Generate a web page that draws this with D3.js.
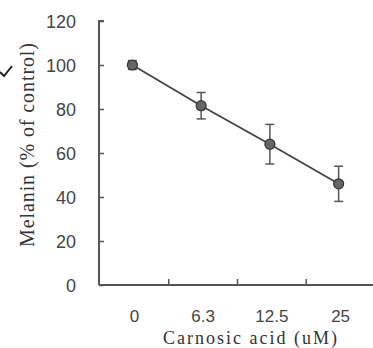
<!DOCTYPE html>
<html><head><meta charset="utf-8">
<script src="https://cdn.jsdelivr.net/npm/d3@7"></script>
<style>body{margin:0;background:#fff}svg{display:block}</style>
</head><body>
<script>
const categories = ["0", "6.3", "12.5", "25"];
const melanin = [100, 81.5, 64, 46];
const errors = [2, 6, 9, 8];
const yTicks = [0, 20, 40, 60, 80, 100, 120];

const W = 373, H = 348;
const svg = d3.select("body").append("svg").attr("width", W).attr("height", H);

const x = d3.scaleBand().domain(categories).range([100, 375]);
const y = d3.scaleLinear().domain([0, 120]).range([285, 21]);
const axisColor = "#555";

// y axis
const ya = svg.append("g").attr("transform", "translate(99,0)")
  .call(d3.axisRight(y).tickValues(yTicks).tickSize(5).tickFormat(""));
ya.select(".domain").attr("stroke", axisColor).attr("stroke-width", 2).attr("d", "M5,21H0V285");
ya.selectAll(".tick line").attr("stroke", axisColor).attr("stroke-width", 1.5);
svg.append("g").selectAll("text").data(yTicks).join("text")
  .attr("x", 76).attr("y", d => y(d) + 7)
  .attr("text-anchor", "end")
  .attr("font-family", "Liberation Sans, Arial, sans-serif")
  .attr("font-size", 18).attr("fill", "#444")
  .text(d => d);

// x axis
const bounds = categories.slice(1).map(c => x(c));
const xa = svg.append("g").attr("transform", "translate(0,285)");
xa.append("line").attr("x1", 99).attr("x2", W).attr("y1", 0).attr("y2", 0)
  .attr("stroke", axisColor).attr("stroke-width", 2);
xa.selectAll(".tk").data(bounds).join("line").attr("class", "tk")
  .attr("x1", d => d).attr("x2", d => d).attr("y1", 0).attr("y2", -6)
  .attr("stroke", axisColor).attr("stroke-width", 1.5);
svg.append("g").selectAll("text").data(categories).join("text")
  .attr("x", d => x(d) + x.bandwidth() / 2).attr("y", 322)
  .attr("text-anchor", "middle")
  .attr("font-family", "Liberation Sans, Arial, sans-serif")
  .attr("font-size", 17).attr("fill", "#444")
  .text(d => d);

// axis titles
svg.append("text").attr("x", 163).attr("y", 344)
  .attr("font-family", "Liberation Serif, Times New Roman, serif")
  .attr("font-size", 18).attr("fill", "#333")
  .attr("textLength", 174).attr("lengthAdjust", "spacing")
  .text("Carnosic acid (uM)");
svg.append("text").attr("transform", "translate(34,247) rotate(-90)")
  .attr("font-family", "Liberation Serif, Times New Roman, serif")
  .attr("font-size", 20).attr("fill", "#333")
  .attr("textLength", 204).attr("lengthAdjust", "spacing")
  .text("Melanin (% of control)");

// data
const pts = categories.map((c, i) => ({c, v: melanin[i], e: errors[i]}));
const cx = d => x(d.c) + x.bandwidth() / 2 - 2;
svg.append("path").datum(pts)
  .attr("fill", "none").attr("stroke", "#444").attr("stroke-width", 1.8)
  .attr("d", d3.line().x(cx).y(d => y(d.v)));
const eb = svg.append("g").selectAll("g").data(pts).join("g")
  .attr("stroke", "#555").attr("stroke-width", 1.5);
eb.append("line").attr("x1", cx).attr("x2", cx).attr("y1", d => y(d.v + d.e)).attr("y2", d => y(d.v - d.e));
eb.append("line").attr("x1", d => cx(d) - 4.5).attr("x2", d => cx(d) + 4.5).attr("y1", d => y(d.v + d.e)).attr("y2", d => y(d.v + d.e));
eb.append("line").attr("x1", d => cx(d) - 4.5).attr("x2", d => cx(d) + 4.5).attr("y1", d => y(d.v - d.e)).attr("y2", d => y(d.v - d.e));
svg.append("g").selectAll("circle").data(pts).join("circle")
  .attr("cx", cx).attr("cy", d => y(d.v)).attr("r", 5)
  .attr("fill", "#666").attr("stroke", "#333").attr("stroke-width", 1.2);

// small scan artifact mark at left
svg.append("path").attr("d", "M0,72 L4,76 L12,66").attr("fill", "none")
  .attr("stroke", "#222").attr("stroke-width", 2);
</script>
</body></html>
